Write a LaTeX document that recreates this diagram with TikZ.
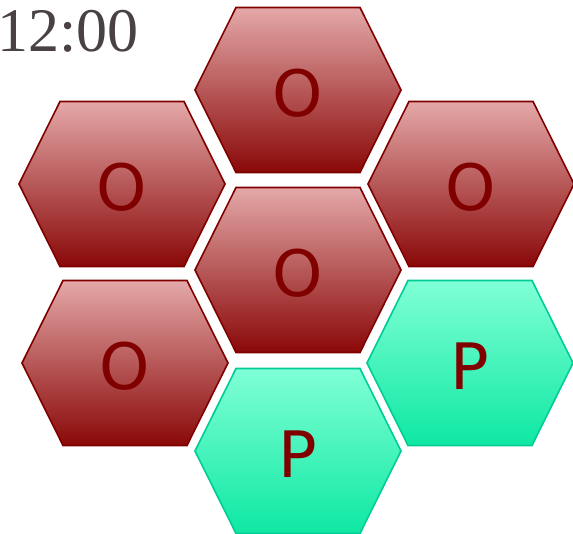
\documentclass[tikz,border=0pt]{standalone}
\usepackage{fontspec}
\newfontfamily\hexfont{DejaVu Sans}
\newfontfamily\clockfont{Liberation Serif}
\definecolor{redtop}{RGB}{228,168,168}
\definecolor{redbot}{RGB}{138,8,8}
\definecolor{redline}{RGB}{128,0,0}
\definecolor{greentop}{RGB}{128,255,214}
\definecolor{greenbot}{RGB}{14,232,162}
\definecolor{greenline}{RGB}{0,204,150}
\definecolor{clockcol}{RGB}{74,66,66}
\tikzset{
  redhex/.style={top color=redtop, bottom color=redbot, draw=redline, line width=1.6pt, line join=miter},
  greenhex/.style={top color=greentop, bottom color=greenbot, draw=greenline, line width=1.6pt, line join=miter},
  hexlabel/.style={inner sep=0pt, text=redline, font=\hexfont\fontsize{64}{64}\selectfont},
}
\newcommand\hexcell[5]{%
  \path[#4] ({#2+103},{#3}) -- ({#2+62},{#3+82.5}) -- ({#2-62},{#3+82.5}) --
    ({#2-103},{#3}) -- ({#2-62},{#3-82.5}) -- ({#2+62},{#3-82.5}) -- cycle;
  \node[hexlabel] (#1) at ({#2},{#3+3}) {#5};
}
\begin{document}
\begin{tikzpicture}[x=1pt,y=-1pt]
\useasboundingbox (0,0) rectangle (573,534);
\hexcell{top}{298}{90}{redhex}{O}
\hexcell{upleft}{122}{184}{redhex}{O}
\hexcell{upright}{471}{184}{redhex}{O}
\hexcell{mid}{298}{270}{redhex}{O}
\hexcell{lowleft}{125}{363}{redhex}{O}
\hexcell{lowright}{470}{363}{greenhex}{P}
\hexcell{bottom}{298}{451}{greenhex}{P}
\node[anchor=base west, inner sep=0pt, text=clockcol, font=\clockfont\fontsize{62}{62}\selectfont] (clock) at (-3,52) {12:00};
\end{tikzpicture}
\end{document}
